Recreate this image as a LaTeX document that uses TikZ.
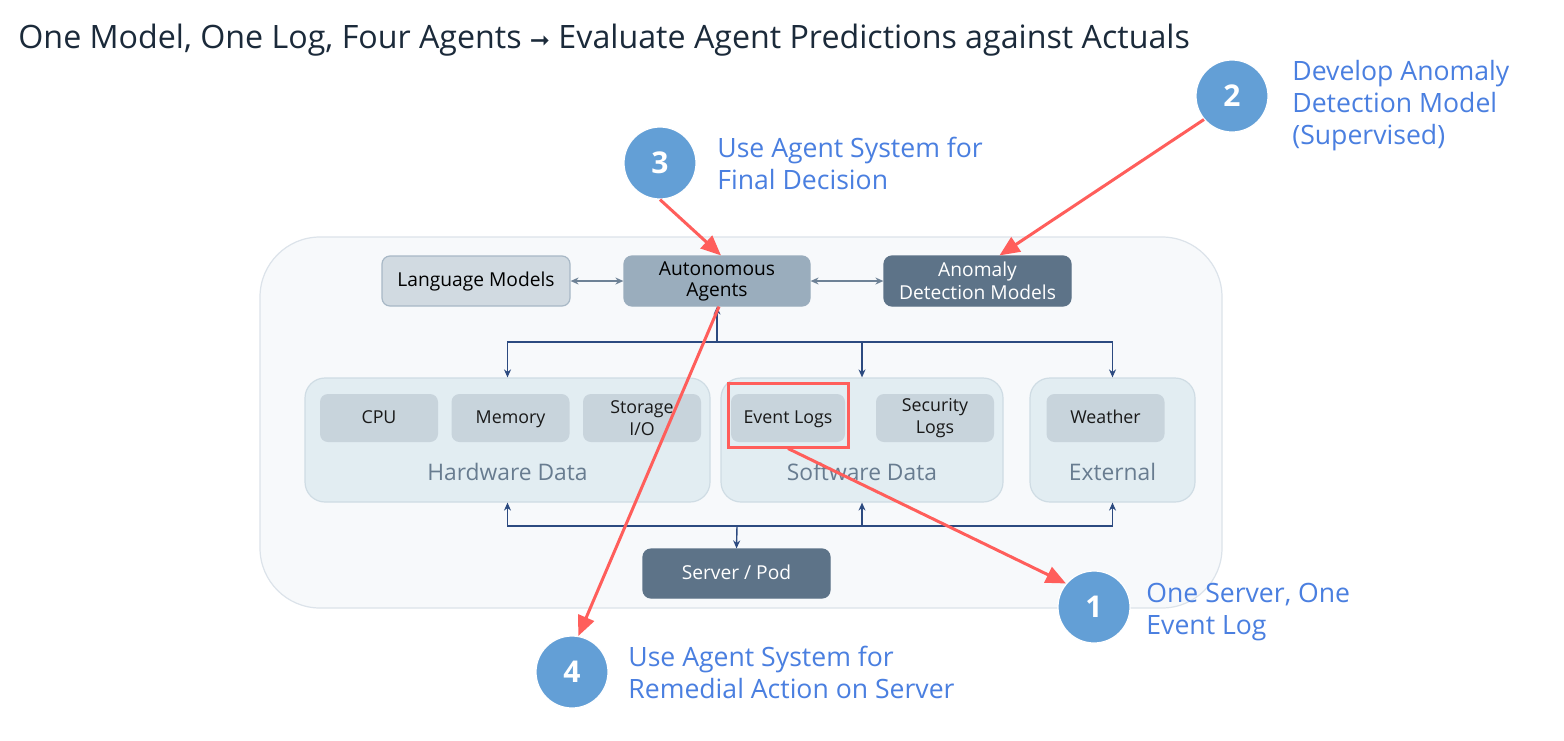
\documentclass[tikz,border=0pt]{standalone}
\usepackage{fontspec}
\setmainfont{Open Sans}
\newfontfamily\djv{DejaVu Sans}
\usetikzlibrary{arrows.meta}
\definecolor{titlec}{HTML}{1B2A3A}
\definecolor{bluet}{HTML}{4A7FE0}
\definecolor{circ}{HTML}{639FD6}
\definecolor{redc}{HTML}{FF5E5B}
\definecolor{contf}{HTML}{F7F9FB}
\definecolor{contd}{HTML}{DCE3EA}
\definecolor{lmf}{HTML}{D1DAE1}
\definecolor{lmd}{HTML}{A8B8C6}
\definecolor{aaf}{HTML}{9AADBD}
\definecolor{dkf}{HTML}{5D7388}
\definecolor{grpf}{HTML}{E2EDF2}
\definecolor{grpd}{HTML}{CFDCE4}
\definecolor{itf}{HTML}{C8D4DC}
\definecolor{grpt}{HTML}{687C90}
\definecolor{conn}{HTML}{2C4A80}
\definecolor{conng}{HTML}{6E8296}
\tikzset{
  container/.style={draw=contd, fill=contf, line width=0.6pt, rounded corners=30pt, inner sep=0pt},
  topbox/.style={rounded corners=4pt, line width=0.6pt, align=center, font=\fontsize{9.6}{11.7}\selectfont, inner sep=0pt, minimum height=25pt},
  grp/.style={draw=grpd, fill=grpf, line width=0.6pt, rounded corners=10pt, inner sep=0pt, minimum height=62pt},
  grplabel/.style={text=grpt, font=\fontsize{11.4}{13}\selectfont, inner sep=0pt},
  item/.style={fill=itf, rounded corners=4pt, align=center, font=\fontsize{8.9}{11}\selectfont, text=black!90, inner sep=0pt, minimum width=59pt, minimum height=24pt},
  oneline/.style={text height=7pt, text depth=1.2pt},
  numc/.style={circle, fill=circ, draw=white, line width=0.6pt, minimum size=36pt, inner sep=0pt, text=white, font=\fontsize{15}{15}\selectfont\bfseries},
  bluelabel/.style={anchor=west, align=left, text=bluet, font=\fontsize{13.3}{16}\selectfont, inner sep=0pt},
  conn/.style={draw=conn, line width=0.7pt, -{Stealth[length=4pt,width=3.5pt]}},
  gconn/.style={draw=conng, line width=0.7pt, {Stealth[length=4pt,width=3.5pt]}-{Stealth[length=4pt,width=3.5pt]}},
  redarrow/.style={draw=redc, line width=1.5pt, -{Triangle[length=10pt,width=8.5pt]}},
}
\begin{document}
\begin{tikzpicture}[x=0.5pt,y=-0.5pt]
\useasboundingbox[fill=white] (0,0) rectangle (1564,740);

\node[anchor=west, text=titlec, font=\fontsize{16.1}{18}\selectfont, inner sep=0pt] (title) at (18,40)
  {One Model, One Log, Four Agents {\djv\fontsize{12}{13}\selectfont ➞} Evaluate Agent Predictions against Actuals};

\node[container, minimum width=481pt, minimum height=185.5pt] (cont) at (741,422.5) {};

% top row
\node[topbox, oneline, draw=lmd, fill=lmf, minimum width=94pt] (lm) at (476,281) {Language Models};
\node[topbox, draw=aaf, fill=aaf, minimum width=93pt] (aa) at (717,281) {\raisebox{-1pt}{\shortstack{Autonomous\\[0.5pt]Agents}}};
\node[topbox, draw=dkf, fill=dkf, text=white, minimum width=93.5pt] (adm) at (977.5,281) {Anomaly\\Detection Models};

% groups
\node[grp, minimum width=202.5pt] (hw) at (507.5,440) {};
\node[grp, minimum width=141pt] (sw) at (862,440) {};
\node[grp, minimum width=82.5pt] (ex) at (1112.5,440) {};
\node[grplabel] (hwl) at (507.5,472) {Hardware Data};
\node[grplabel] (swl) at (862,472) {Software Data};
\node[grplabel] (exl) at (1112.5,472) {External};

\node[item, oneline] (cpu) at (379,418) {CPU};
\node[item, oneline] (mem) at (510.5,418) {Memory};
\node[item] (sto) at (642,418) {Storage\\I/O};
\node[item, oneline, minimum width=57pt] (evl) at (788,418) {Event Logs};
\node[item] (sec) at (935,418) {Security\\Logs};
\node[item, oneline] (wea) at (1105.5,418) {Weather};

\node[draw=redc, line width=1.5pt, minimum width=60pt, minimum height=32pt, inner sep=0pt] (hl) at (788,415) {};

\node[topbox, oneline, draw=dkf, fill=dkf, text=white, minimum width=93.5pt, minimum height=24.5pt] (srv) at (736.5,573.5) {Server / Pod};

% connectors
\draw[gconn] (lm.east) -- (aa.west);
\draw[gconn] (aa.east) -- (adm.west);

\coordinate (jt) at (717,342);
\draw[conn] (jt) -- (aa.south);
\draw[conn] (jt) -| (hw.north);
\draw[conn] (jt) -| (sw.north);
\draw[conn] (jt) -| (ex.north);

\coordinate (jb) at (737,526);
\draw[conn] (jb) -- (srv.north);
\draw[conn] (jb) -| (hw.south);
\draw[conn] (jb) -| (sw.south);
\draw[conn] (jb) -| (ex.south);

% numbered circles
\node[numc] (n1) at (1094,607) {1};
\node[numc] (n2) at (1232,96) {2};
\node[numc] (n3) at (660,163) {3};
\node[numc] (n4) at (572,672) {4};

\node[bluelabel] (l1) at (1146,612) {One Server, One\\Event Log};
\node[bluelabel] (l2) at (1292,106) {Develop Anomaly\\Detection Model\\(Supervised)};
\node[bluelabel] (l3) at (717,163) {Use Agent System for\\Final Decision};
\node[bluelabel] (l4) at (628,672) {Use Agent System for\\Remedial Action on Server};

% red arrows
\draw[redarrow] (n3.south) -- ([xshift=2pt]aa.north);
\draw[redarrow] (n2.220) -- ([xshift=11pt]adm.north);
\draw[redarrow] ([xshift=1pt]aa.south) -- (n4.80);
\draw[redarrow] (hl.south) -- (n1.140);
\end{tikzpicture}
\end{document}
